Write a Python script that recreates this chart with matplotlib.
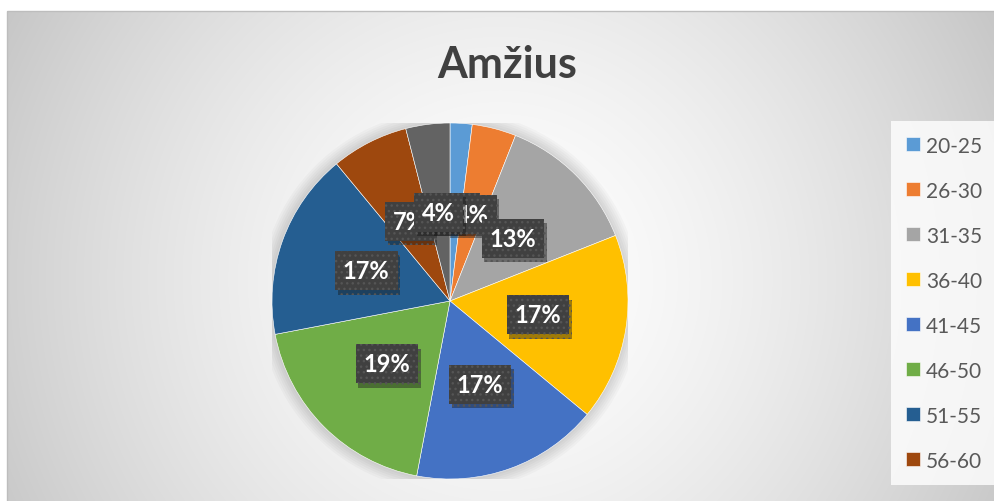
import numpy as np
import matplotlib
matplotlib.use('Agg')
import matplotlib.pyplot as plt
import matplotlib.patheffects as pe
from matplotlib.patches import Rectangle, Circle

# data
title = 'Amžius'
age_groups = ['20-25', '26-30', '31-35', '36-40', '41-45', '46-50', '51-55', '56-60', '61-65']
shares = [2, 4, 13, 17, 17, 19, 17, 7, 4]
colors = ['#5B9BD5', '#ED7D31', '#A5A5A5', '#FFC000', '#4472C4',
          '#70AD47', '#255E91', '#9E480E', '#636363']
legend_count = 8  # legend box is cut off after 56-60

W, H = 994, 502
fig = plt.figure(figsize=(W / 100, H / 100), dpi=100)
fig.patch.set_facecolor('white')

# chart area with radial grey gradient
bg = fig.add_axes([0, 0, 1, 1])
bg.axis('off')
yy, xx = np.mgrid[12:H, 7:W]
d = np.clip(np.hypot(xx - 500, yy - 280) / 560, 0, 1)
g = 1 - 0.22 * d ** 1.5
bg.imshow(np.dstack([g, g, g]), extent=(7, W, H, 12), origin='upper', aspect='auto')
bg.add_patch(Rectangle((7, 12), W, H, fill=False, edgecolor='#bdbdbd', lw=1))
bg.set_xlim(0, W)
bg.set_ylim(H, 0)

# pie
cx, cy, r = 450, 302, 178
ax = fig.add_axes([(cx - r) / W, (H - cy - r) / H, 2 * r / W, 2 * r / H])
for k in range(6):
    ax.add_patch(Circle((0, 0), 1 + 0.012 * (k + 1), color='black', alpha=0.025, lw=0))

wedges, texts, autotexts = ax.pie(
    shares, colors=colors, startangle=90, counterclock=False, radius=1,
    autopct='%.0f%%', pctdistance=0.5,
    wedgeprops=dict(edgecolor='white', linewidth=0.4))
ax.set_xlim(-1, 1)
ax.set_ylim(-1, 1)
ax.set_aspect('auto')
ax.axis('off')

for t in autotexts:
    t.set(color='white', fontsize=17, fontweight='bold', family='Lato')
    t.set_bbox(dict(boxstyle='square,pad=0.34', facecolor='#404040',
                    edgecolor='#555555', hatch='...', linewidth=0))
    t.get_bbox_patch().set_path_effects(
        [pe.SimplePatchShadow(offset=(2, -3), alpha=0.4), pe.Normal()])

fig.text(507 / W, 1 - 65 / H, title, ha='center', va='center', fontsize=31,
         fontweight='bold', color='#404040', family='Lato')

leg = fig.legend(wedges[:legend_count], age_groups[:legend_count], loc='upper left',
                 bbox_to_anchor=(891 / W, 1 - 122 / H), bbox_transform=fig.transFigure,
                 frameon=True, fancybox=False, borderaxespad=0, borderpad=0.7,
                 labelspacing=1.2, handlelength=0.67, handleheight=0.67,
                 handletextpad=0.3, prop=dict(family='Lato', size=15))
leg.get_frame().set_facecolor((1, 1, 1, 0.12))
leg.get_frame().set_edgecolor('none')
for t in leg.get_texts():
    t.set_color('#595959')

fig.savefig('out.png', dpi=100)
